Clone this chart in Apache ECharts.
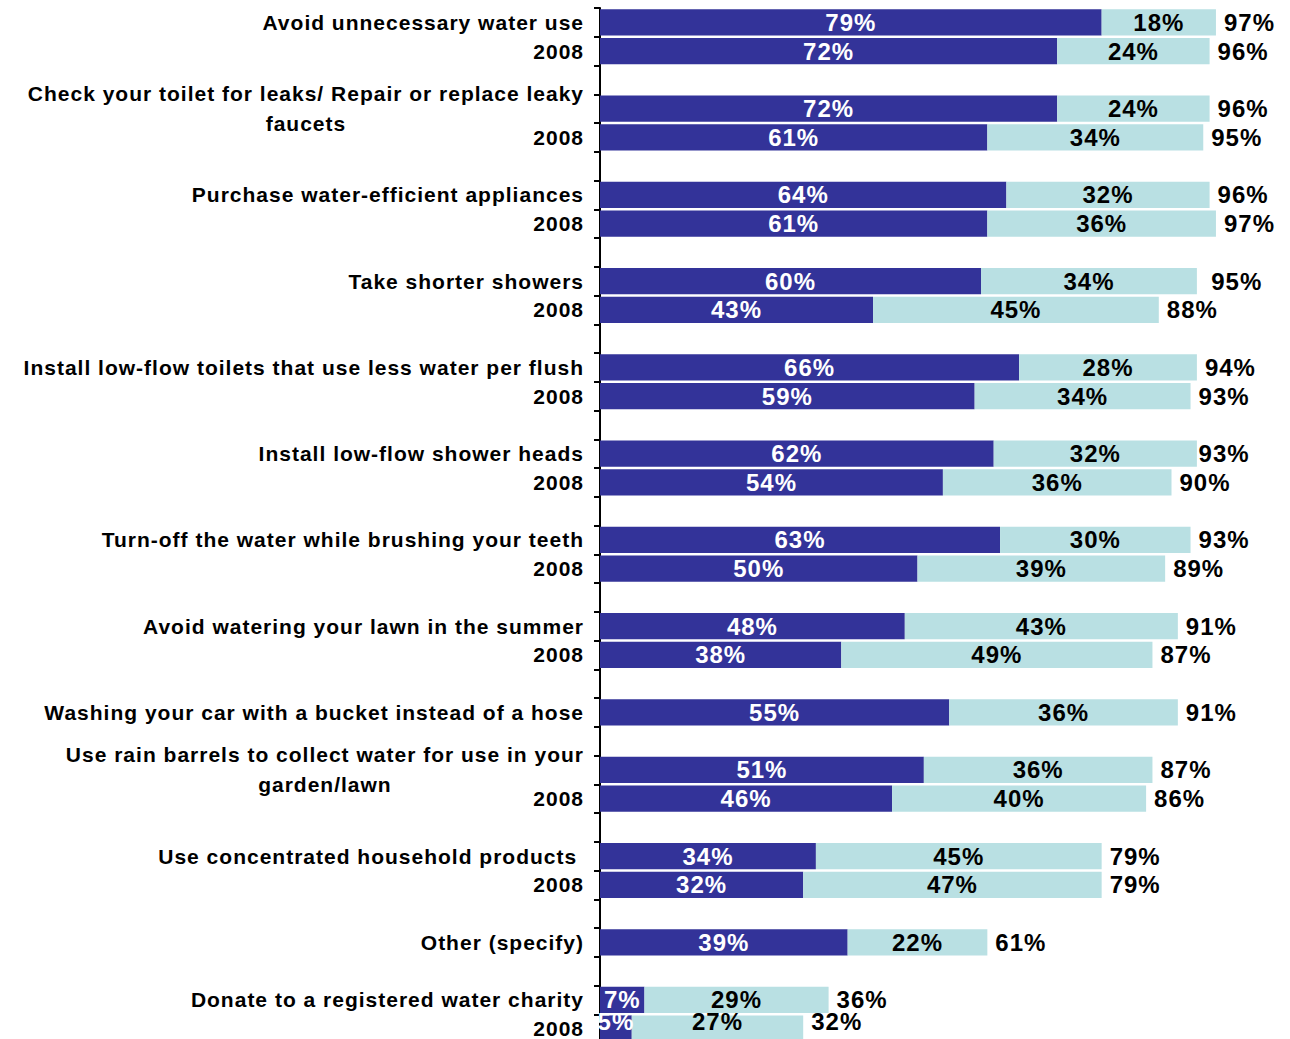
<!DOCTYPE html>
<html>
<head>
<meta charset="utf-8">
<script src="https://cdn.jsdelivr.net/npm/echarts@6/dist/echarts.min.js"></script>
<style>
  html, body { margin: 0; padding: 0; background: #ffffff; }
  #chart { width: 1290px; height: 1039px; }
  /* slightly tracked lettering for every label */
  #chart text { letter-spacing: 1px; }
</style>
</head>
<body>
<div id="chart"></div>
<script>
// One row per slot; '' / '-' rows are the spacers between question groups.
const categories = [
  'Avoid unnecessary water use', '2008', '',
  'Check your toilet for leaks/ Repair or replace leaky\nfaucets', '2008', '',
  'Purchase water-efficient appliances', '2008', '',
  'Take shorter showers', '2008', '',
  'Install low-flow toilets that use less water per flush', '2008', '',
  'Install low-flow shower heads', '2008', '',
  'Turn-off the water while brushing your teeth', '2008', '',
  'Avoid watering your lawn in the summer', '2008', '',
  'Washing your car with a bucket instead of a hose', '',
  'Use rain barrels to collect water for use in your\ngarden/lawn', '2008', '',
  'Use concentrated household products\u00a0', '2008', '',
  'Other (specify)', '',
  'Donate to a registered water charity', '2008'
];

const primaryShare = [
  79, 72, '-',
  72, 61, '-',
  64, 61, '-',
  60, 43, '-',
  66, 59, '-',
  62, 54, '-',
  63, 50, '-',
  48, 38, '-',
  55, '-',
  51, 46, '-',
  34, 32, '-',
  39, '-',
  7, 5
];

const secondaryShare = [
  18, 24, '-',
  24, 34, '-',
  32, 36, '-',
  34, 45, '-',
  28, 34, '-',
  32, 36, '-',
  30, 39, '-',
  43, 49, '-',
  36, '-',
  36, 40, '-',
  45, 47, '-',
  22, '-',
  29, 27
];

const totalShare = [
  97, 96, '-',
  96, 95, '-',
  96, 97, '-',
  95, 88, '-',
  94, 93, '-',
  93, 90, '-',
  93, 89, '-',
  91, 87, '-',
  91, '-',
  87, 86, '-',
  79, 79, '-',
  61, '-',
  36, 32
];

const FONT = '"Liberation Sans", Arial, Helvetica, sans-serif';
const TRACKING = 1;
const CAT_SIZE = 21;
const VALUE_SIZE = 24;
const DARK = '#333399';
const LIGHT = '#b9e0e3';

// Width of a tracked line of category text, used to centre the second line
// of two-line labels under the first one.
const measureCtx = document.createElement('canvas').getContext('2d');
function trackedWidth(text) {
  measureCtx.font = 'bold ' + CAT_SIZE + 'px ' + FONT;
  return measureCtx.measureText(text).width + text.length * TRACKING;
}

const catStyle = { fontSize: CAT_SIZE, fontWeight: 'bold', fontFamily: FONT, color: '#000', lineHeight: 30 };
const rich = { head: Object.assign({ align: 'right' }, catStyle) };
categories.forEach((c, i) => {
  if (c.indexOf('\n') >= 0) {
    rich['tail' + i] = Object.assign({ align: 'center', width: trackedWidth(c.split('\n')[0]) }, catStyle);
  }
});

function formatCategory(value, idx) {
  if (value.indexOf('\n') < 0) return value;
  const parts = value.split('\n');
  return '{head|' + parts[0] + '}\n{tail' + idx + '|' + parts[1] + '}';
}

// The bottom row sits against the lower edge, so its value labels are lifted a little.
const lastRow = categories.length - 1;
function withEdgeLift(values) {
  return values.map((v, i) => (i === lastRow ? { value: v, label: { offset: [0, -7] } } : v));
}

const valueLabel = (color) => ({
  show: true,
  position: 'inside',
  color: color,
  fontSize: VALUE_SIZE,
  fontWeight: 'bold',
  fontFamily: FONT,
  formatter: '{c}%'
});

const chart = echarts.init(document.getElementById('chart'), null, { renderer: 'svg' });

chart.setOption({
  animation: false,
  backgroundColor: '#ffffff',
  grid: { left: 600, right: 55, top: 8, bottom: -4, containLabel: false, outerBoundsMode: 'none' },
  xAxis: { type: 'value', min: 0, max: 100, show: false },
  yAxis: {
    type: 'category',
    inverse: true,
    data: categories,
    boundaryGap: true,
    axisLine: { show: true, lineStyle: { color: '#000', width: 2 } },
    axisTick: { show: true, interval: 0, length: 6, alignWithLabel: false, lineStyle: { color: '#000', width: 2 } },
    splitLine: { show: false },
    axisLabel: {
      interval: 0,
      hideOverlap: false,
      margin: 16,
      align: 'right',
      color: '#000',
      fontSize: CAT_SIZE,
      fontWeight: 'bold',
      fontFamily: FONT,
      lineHeight: 30,
      formatter: formatCategory,
      rich: rich
    }
  },
  series: [
    {
      name: 'Primary',
      type: 'bar',
      stack: 'share',
      barWidth: '92%',
      data: withEdgeLift(primaryShare),
      itemStyle: { color: DARK },
      label: valueLabel('#ffffff'),
      emphasis: { disabled: true }
    },
    {
      name: 'Secondary',
      type: 'bar',
      stack: 'share',
      barWidth: '92%',
      data: withEdgeLift(secondaryShare),
      itemStyle: { color: LIGHT },
      label: valueLabel('#000000'),
      emphasis: { disabled: true }
    },
    {
      name: 'Total',
      type: 'bar',
      barWidth: '92%',
      barGap: '-100%',
      z: 1,
      silent: true,
      data: withEdgeLift(totalShare),
      itemStyle: { color: 'rgba(0,0,0,0)' },
      label: {
        show: true,
        position: 'right',
        distance: 8,
        color: '#000',
        fontSize: VALUE_SIZE,
        fontWeight: 'bold',
        fontFamily: FONT,
        formatter: '{c}%'
      },
      emphasis: { disabled: true }
    }
  ]
});
</script>
</body>
</html>
